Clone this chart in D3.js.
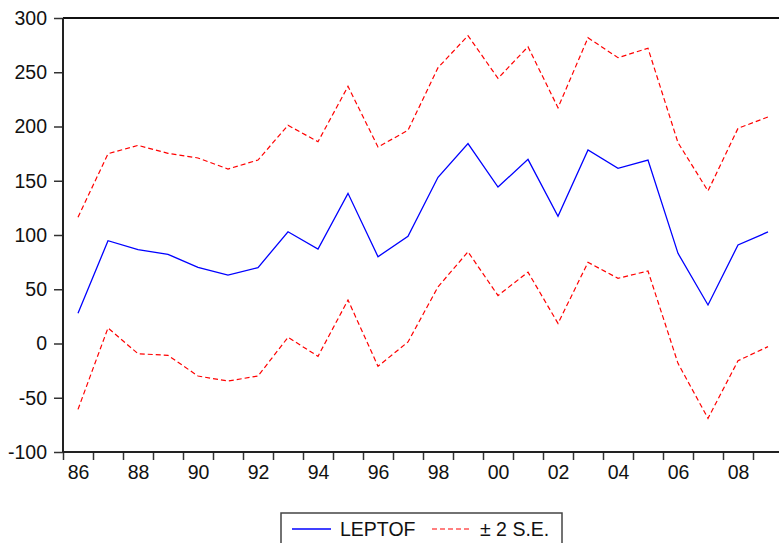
<!DOCTYPE html>
<html><head><meta charset="utf-8">
<script src="https://cdn.jsdelivr.net/npm/d3@7"></script>
<style>body{margin:0;background:#fff}svg{display:block}text{font-family:"Liberation Sans",Arial,sans-serif;fill:#111}</style>
</head><body><div id="c"></div>
<script>
const years = d3.range(1986, 2010);
const leptof = [27.8, 94.7, 86.5, 82.2, 70.2, 63.1, 69.9, 103.0, 87.1, 138.4, 80.0, 98.8, 153.2, 184.2, 144.2, 169.7, 117.2, 178.3, 161.4, 169.1, 83.1, 35.5, 90.8, 102.8];
const upperSE = [116.3, 174.9, 182.6, 175.3, 171.0, 160.8, 169.1, 201.1, 186.0, 237.0, 181.1, 196.5, 254.2, 283.7, 244.4, 273.5, 217.3, 281.8, 263.4, 272.1, 185.1, 140.6, 198.3, 208.8];
const lowerSE = [-60.7, 14.3, -9.4, -10.9, -30.0, -34.6, -30.0, 5.7, -11.8, 40.1, -21.0, 1.4, 52.2, 84.5, 44.2, 65.8, 18.5, 74.8, 60.1, 66.8, -18.3, -69.0, -15.9, -2.9];
const yTicks = [-100, -50, 0, 50, 100, 150, 200, 250, 300];
const xLabelYears = [1986, 1988, 1990, 1992, 1994, 1996, 1998, 2000, 2002, 2004, 2006, 2008];
const legendItems = ["LEPTOF", "\u00B1 2 S.E."];

const W = 779, H = 543;
const L = 63, T = 18, B = 452, R = 783;
const svg = d3.select("#c").append("svg").attr("width", W).attr("height", H);

const x = d3.scaleLinear().domain([1985.5, 2009.5]).range([L, R]);
const y = d3.scaleLinear().domain([-100, 300]).range([B, T]);

svg.append("clipPath").attr("id", "clip").append("rect")
  .attr("x", L).attr("y", T).attr("width", R - L).attr("height", B - T);

// y axis
const ya = svg.append("g").attr("transform", `translate(${L},0)`)
  .call(d3.axisLeft(y).tickValues(yTicks).tickSize(9).tickPadding(7).tickFormat(d => String(d)));
ya.select(".domain").remove();
ya.selectAll(".tick line").attr("stroke", "#333").attr("stroke-width", 1.5);
ya.selectAll("text").attr("font-size", "19.5px").attr("fill", "#111");

// x axis ticks (year boundaries)
const boundaries = d3.range(1985.5, 2010, 1);
const xa = svg.append("g").attr("transform", `translate(0,${B})`)
  .call(d3.axisBottom(x).tickValues(boundaries).tickSize(8).tickFormat(""));
xa.select(".domain").remove();
xa.selectAll(".tick line").attr("stroke", "#333").attr("stroke-width", 1.5);

// x labels
const xl = svg.append("g").attr("transform", `translate(0,${B})`)
  .call(d3.axisBottom(x).tickValues(xLabelYears).tickSize(0).tickFormat(d => String(d % 100).padStart(2, "0")));
xl.select(".domain").remove();
xl.selectAll("text").attr("y", 27).attr("dy", null).attr("font-size", "19.5px").attr("fill", "#111");

// frame lines
svg.append("line").attr("x1", L).attr("x2", W).attr("y1", T).attr("y2", T).attr("stroke", "#111").attr("stroke-width", 2);
svg.append("line").attr("x1", L).attr("x2", L).attr("y1", T).attr("y2", B).attr("stroke", "#222").attr("stroke-width", 2);
svg.append("line").attr("x1", L).attr("x2", W).attr("y1", B).attr("y2", B).attr("stroke", "#222").attr("stroke-width", 2);

const line = d3.line().x((d, i) => x(years[i])).y(d => y(d));
const g = svg.append("g").attr("clip-path", "url(#clip)");
g.append("path").datum(upperSE).attr("d", line).attr("fill", "none").attr("stroke", "#ff0000").attr("stroke-width", 1.2).attr("stroke-dasharray", "5,3");
g.append("path").datum(lowerSE).attr("d", line).attr("fill", "none").attr("stroke", "#ff0000").attr("stroke-width", 1.2).attr("stroke-dasharray", "5,3");
g.append("path").datum(leptof).attr("d", line).attr("fill", "none").attr("stroke", "#0000ff").attr("stroke-width", 1.3);

// legend
const lg = svg.append("g");
lg.append("rect").attr("x", 281).attr("y", 513).attr("width", 281).attr("height", 45).attr("fill", "#fff").attr("stroke", "#444").attr("stroke-width", 1.5);
lg.append("line").attr("x1", 292).attr("x2", 331).attr("y1", 529).attr("y2", 529).attr("stroke", "#0000ff").attr("stroke-width", 1.3);
lg.append("text").attr("x", 340).attr("y", 535.5).attr("font-size", "19.5px").text(legendItems[0]);
lg.append("line").attr("x1", 432).attr("x2", 471).attr("y1", 529).attr("y2", 529).attr("stroke", "#ff0000").attr("stroke-width", 1.2).attr("stroke-dasharray", "5,3");
lg.append("text").attr("x", 480).attr("y", 535.5).attr("font-size", "19.5px").text(legendItems[1]);
</script></body></html>
